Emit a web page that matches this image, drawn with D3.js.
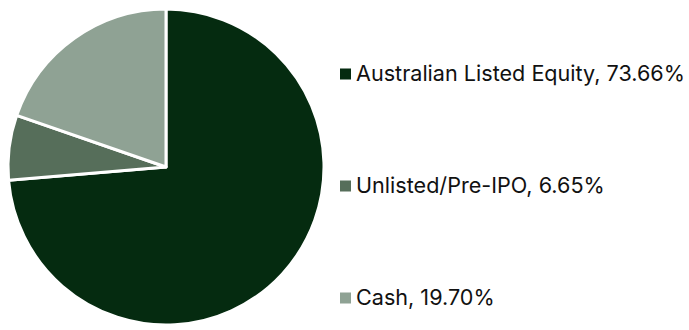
<!DOCTYPE html>
<html>
<head>
<meta charset="utf-8">
<script src="https://cdn.jsdelivr.net/npm/d3@7"></script>
<style>
  body { margin: 0; background: #fff; }
  svg { display: block; }
  .legend text { font-family: Inter, "Open Sans", sans-serif; font-size: 21.6px; fill: #111; }
</style>
</head>
<body>
<div id="chart"></div>
<script>
// Data
const categories = ["Australian Listed Equity", "Unlisted/Pre-IPO", "Cash"];
const shares = [73.66, 6.65, 19.70];
const sliceColors = ["#052b10", "#566e5a", "#8fa294"];

const width = 689, height = 330;
const cx = 166, cy = 167, radius = 158;

const svg = d3.select("#chart").append("svg")
    .attr("width", width)
    .attr("height", height);

const data = categories.map((c, i) => ({ name: c, value: shares[i], color: sliceColors[i] }));

const pie = d3.pie().value(d => d.value).sort(null);
const arc = d3.arc().innerRadius(0).outerRadius(radius);

const g = svg.append("g").attr("transform", `translate(${cx},${cy})`);

g.selectAll("path")
    .data(pie(data))
    .enter().append("path")
    .attr("d", arc)
    .attr("fill", d => d.data.color)
    .attr("stroke", "#fff")
    .attr("stroke-width", 3)
    .attr("stroke-linejoin", "round");

// Legend
const legendY = d3.scalePoint()
    .domain(categories)
    .range([74, 298]);

const legend = svg.selectAll(".legend")
    .data(data)
    .enter().append("g")
    .attr("class", "legend")
    .attr("transform", d => `translate(339,${legendY(d.name)})`);

legend.append("rect")
    .attr("x", 1)
    .attr("y", -5.5)
    .attr("width", 11)
    .attr("height", 11)
    .attr("fill", d => d.color);

legend.append("text")
    .attr("x", 17)
    .attr("y", 7)
    .text(d => `${d.name}, ${d.value.toFixed(2)}%`);
</script>
</body>
</html>
